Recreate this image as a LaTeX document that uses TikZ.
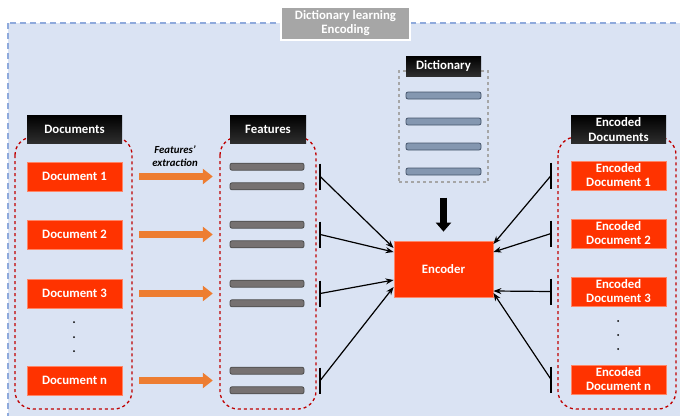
\documentclass[tikz,border=0pt]{standalone}
\usepackage{fontspec}
\setmainfont{Carlito}
\usetikzlibrary{arrows.meta}
\definecolor{EncodingBack}{HTML}{DAE3F3}
\definecolor{EncodingFrame}{HTML}{8FAADC}
\definecolor{EncodingTitle}{HTML}{A6A6A6}
\definecolor{EncodingRed}{HTML}{FF3300}
\definecolor{EncodingDash}{HTML}{C00000}
\definecolor{EncodingFeature}{HTML}{767171}
\definecolor{EncodingAtom}{HTML}{8497B0}
\definecolor{EncodingAtomLine}{HTML}{44546A}
\definecolor{EncodingOrange}{HTML}{ED7D31}

\begin{document}
\begin{tikzpicture}[x=1pt,y=-1pt,font=\fontsize{12.8}{14}\selectfont\bfseries,
    doc/.style={fill=EncodingRed,draw=EncodingRed!60!white,line width=0.8pt,text=white,
      minimum width=95pt,minimum height=29pt,inner sep=0pt,align=center},
    head/.style={top color=black,bottom color=black!82,text=white,minimum height=28pt,
      inner sep=0pt,align=center},
    group/.style={draw=EncodingDash,dashed,line width=1.3pt,rounded corners=18pt},
    pair/.style={minimum width=74pt,minimum height=27pt,inner sep=0pt},
    feat/.style={fill=EncodingFeature,draw=black!70,line width=0.8pt,rounded corners=2pt},
    atom/.style={fill=EncodingAtom,draw=EncodingAtomLine,line width=0.8pt,rounded corners=2pt,
      minimum width=75pt,minimum height=7pt,inner sep=0pt},
    tick/.style={line width=1.6pt},
    link/.style={-{Stealth[length=8pt,width=6pt]},line width=1.2pt},
    extract/.style={EncodingOrange,line width=7pt,-{Triangle[length=10pt,width=15pt]},
      shorten <=17pt,shorten >=17pt}]
  \clip (0,0) rectangle (680,415);
  \draw[EncodingFrame,fill=EncodingBack,line width=1.3pt,dash pattern=on 6pt off 4pt] (8,23) rectangle (700,440);
  \node[fill=EncodingTitle,draw=white,line width=1.5pt,text=white,align=center,
    minimum width=129pt,minimum height=33pt,inner sep=0pt] (title) at (345.5,23.5) {Dictionary learning\\Encoding};

  \draw[group] (15,137) rectangle (132,409);
  \draw[group] (220,137) rectangle (316,409);
  \draw[group] (558,137) rectangle (676,409);
  \node[head,minimum width=95pt] (docs) at (74.5,129) {Documents};
  \node[head,minimum width=76pt] (feats) at (268,129) {Features};
  \node[head,minimum width=95pt,font=\fontsize{12.8}{14.5}\selectfont\bfseries] (encs) at (618.5,129.5) {Encoded\\Documents};

  \node[draw=EncodingTitle,dashed,line width=1.3pt,minimum width=89pt,minimum height=111pt] (dict) at (443.5,126.5) {};
  \node[head,minimum width=75pt,minimum height=20pt] (dicthead) at (443.5,66) {Dictionary};
  \foreach \y [count=\i] in {95.5,121.5,146.5,171.5}
    \node[atom] (atom\i) at (443.5,\y) {};

  \node[fill=EncodingRed,draw=EncodingRed!60!white,line width=0.8pt,text=white,
    minimum width=99pt,minimum height=56pt] (enc) at (443.5,269) {Encoder};
  \draw[line width=6.5pt,-{Triangle[length=9pt,width=15pt]},shorten <=15pt,shorten >=9pt] (dict.south) -- (enc.north);

  \node[font=\fontsize{10.8}{13}\selectfont\bfseries\itshape,align=center] (fx) at (175,156.5) {Features’\\extraction};

  \foreach \y/\t/\s [count=\i] in {176.5/1/21,234.5/2/17,293.5/3/-11,380.5/n/-18}{
    \node[doc] (doc\i) at (74.5,\y) {Document \t};
    \node[pair] (pair\i) at (267,\y) {};
    \node[feat,minimum width=74pt,minimum height=7pt,inner sep=0pt,anchor=north] at (pair\i.north) {};
    \node[feat,minimum width=74pt,minimum height=7pt,inner sep=0pt,anchor=south] at (pair\i.south) {};
    \draw[extract] (doc\i.east) -- (pair\i.west);
    \coordinate (ft\i) at ([xshift=16pt]pair\i.east);
    \draw[tick] ([yshift=13pt]ft\i) -- ([yshift=-13pt]ft\i);
    \draw[link] (ft\i) -- ([yshift=\s pt]enc.west);
  }

  \foreach \y/\t/\s [count=\i] in {175.5/1/25,233.5/2/17,291.5/3/-22,379.5/n/-24}{
    \node[doc] (edoc\i) at (618.5,\y) {Encoded\\Document \t};
    \coordinate (et\i) at ([xshift=-19.5pt]edoc\i.west);
    \draw[tick] ([yshift=13pt]et\i) -- ([yshift=-13pt]et\i);
    \draw[link] (et\i) -- ([yshift=\s pt]enc.east);
  }

  \foreach \y in {322,337,351}
    \fill (74,\y) circle (1pt);
  \foreach \y in {321,335,349}
    \fill (618,\y) circle (1pt);
\end{tikzpicture}
\end{document}
